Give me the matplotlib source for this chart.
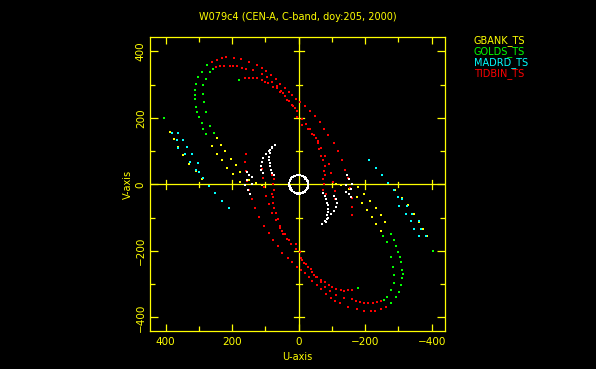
import numpy as np
import matplotlib
matplotlib.use('Agg')
import matplotlib.pyplot as plt

# uv points (kilo-lambda), one half of each track; the other half is (-u,-v)
# GBANK_TS
gb_u = [387, 375, 362, 347, 329, 310, 290,
        247, 234, 222, 204, 189, 175, 150, 128, 111,
        260, 247, 232, 215, 197, 177]
gb_v = [156, 135, 112, 89, 62, 40, 17,
        139, 119, 99, 77, 57, 37, 14, 3, -2,
        114, 92, 72, 50, 30, 7]

# GOLDS_TS
go_u = [262, 277, 292, 302, 309, 312, 313, 312, 309, 305, 300, 292, 287, 279,
        257, 267, 279, 287, 287, 285, 279, 267, 255,
        404, 179]
go_v = [368, 358, 338, 323, 303, 283, 270, 257, 233, 218, 202, 184, 167, 150,
        348, 338, 318, 298, 273, 248, 218, 174, 155,
        199, 313]

# MADRD_TS
ma_u = [382, 367, 362, 342, 327, 310, 287, 269, 252, 232, 210,
        362, 347, 337, 322, 302, 300]
ma_v = [155, 133, 110, 90, 66, 43, 18, -5, -27, -49, -72,
        155, 133, 111, 90, 65, 38]

# TIDBIN_TS
ti_u = [262, 247, 230, 217, 195, 174, 149, 125, 110, 97, 82, 68, 55, 41, 30,
        20, 8, -4, -19, -33, -49, -63, -77, -89, -105, -119, -131, -139, -148,
        -155, -159, -160, -159,
        249, 237, 225, 207, 197, 185, 171, 159, 137, 111, 95, 80, 66, 53, 40,
        28, 17, 6, -9, -22, -34, -46, -57, -68, -80, -90, -98, -104, -108, -110,
        161, 149, 137, 126, 111, 101, 91, 78, 66, 56, 46, 36, 21, 11, 4, -9,
        -29, -40, -51, -57, -62, -67, -74, -78, -77, -80, -74, -76, -74, -81]
ti_v = [368, 375, 380, 382, 380, 376, 368, 358, 350, 341, 329, 316, 303, 290, 279,
        268, 258, 248, 235, 220, 205, 186, 167, 147, 124, 99, 72, 44, 18,
        -10, -40, -68, -92,
        352, 355, 357, 357, 356, 355, 350, 346, 343, 333, 322, 308, 295, 280, 265,
        250, 236, 220, 195, 180, 165, 148, 130, 108, 85, 60, 35, 8, -20, -45,
        319, 319, 321, 319, 314, 309, 304, 294, 289, 279, 274, 254, 239, 229, 202, 179,
        167, 150, 140, 125, 105, 85, 72, 55, 39, 28, 17, 0, -17, -28]

# short baselines (white, not in the list)
wc_u = [29, 28.6, 27.3, 25.1, 22.2, 18.6, 14.5, 9.9, 5, 0, -5, -9.9, -14.5,
        -18.6, -22.2, -25.1, -27.3, -28.6,
        28, 26.5, 23, 18, 12, 5, -2, -9, -15, -20, -24, -27]
wc_v = [0, 4.9, 9.6, 14, 18, 21.4, 24.2, 26.3, 27.6, 28, 27.6, 26.3, 24.2,
        21.4, 18, 14, 9.6, 4.9,
        3, 10, 17, 22, 25.5, 27, 27, 25.5, 22, 17, 11, 4]
wa_u = [71, 80, 89, 98, 106, 111, 114, 112, 106,
        81, 85, 86, 88, 88, 87, 86, 83, 79, 74,
        156, 150, 141, 156, 141, 161, 152, 146]
wa_v = [118, 110, 100, 90, 80, 68, 55, 44, 35,
        113, 104, 93, 82, 73, 63, 55, 44, 35, 27,
        38, 28, 23, 13, 2, -2, -17, -29]

names = ['GBANK_TS', 'GOLDS_TS', 'MADRD_TS', 'TIDBIN_TS']
colors = ['#ffff00', '#00ff00', '#00ffff', '#ff0000']
tracks = [(gb_u, gb_v), (go_u, go_v), (ma_u, ma_v), (ti_u, ti_v)]

major = [-400, -200, 0, 200, 400]
minor = [-300, -100, 100, 300]
yel = '#ffff00'

fig = plt.figure(figsize=(5.96, 3.69), dpi=100, facecolor='black')
ax = fig.add_axes([150/596, 1-331/369, 295/596, 294/369], facecolor='black')

for (u, v), c in zip(tracks, colors):
    u = np.array(u); v = np.array(v)
    ax.plot(np.concatenate([u, -u]), np.concatenate([v, -v]), 's', color=c,
            ms=1.5, mew=0, zorder=3)

for u, v, s in [(wc_u, wc_v, 1.6), (wa_u, wa_v, 1.6)]:
    u = np.array(u); v = np.array(v)
    ax.plot(np.concatenate([u, -u]), np.concatenate([v, -v]), 's', color='white',
            ms=s, mew=0, zorder=4)

# cross through the origin, with its own ticks
ax.axhline(0, color=yel, lw=0.9, zorder=2)
ax.axvline(0, color=yel, lw=0.9, zorder=2)
for t in major:
    if t != 0:
        ax.plot([t, t], [-13, 13], color=yel, lw=0.9, zorder=2)
        ax.plot([-15, 15], [t, t], color=yel, lw=0.9, zorder=2)
for t in minor:
    ax.plot([t, t], [-7, 7], color=yel, lw=0.9, zorder=2)
    ax.plot([-9, 9], [t, t], color=yel, lw=0.9, zorder=2)

ax.set_xlim(447, -440)
ax.set_ylim(-441, 443)
ax.set_xticks(major)
ax.set_xticks(minor, minor=True)
ax.set_yticks(major)
ax.set_yticks(minor, minor=True)
ax.set_xticklabels([str(t).replace('-', '\u2212') for t in major])
ax.set_yticklabels([str(t).replace('-', '\u2212') for t in major], rotation=90, va='center')
ax.tick_params(which='both', direction='in', top=True, right=True, colors=yel,
               labelsize=7.5, width=0.9)
ax.tick_params(axis='x', which='major', length=5, pad=4)
ax.tick_params(axis='y', which='major', length=6, pad=3)
ax.tick_params(which='minor', length=3.5)
for sp in ax.spines.values():
    sp.set_color(yel)
    sp.set_linewidth(0.9)

fig.text(298/596, 1-17/369, 'W079c4 (CEN-A, C-band, doy:205, 2000)', color=yel,
         fontsize=7, ha='center', va='center')
fig.text(297/596, 1-357/369, 'U-axis', color=yel, fontsize=7, ha='center', va='center')
fig.text(128/596, 1-184/369, 'V-axis', color=yel, fontsize=7, ha='center', va='center',
         rotation=90)
for i, (n, c) in enumerate(zip(names, colors)):
    fig.text(474/596, 1-(41+11*i)/369, n, color=c, fontsize=7, ha='left', va='center')

fig.savefig('out.png', dpi=100, facecolor='black')
